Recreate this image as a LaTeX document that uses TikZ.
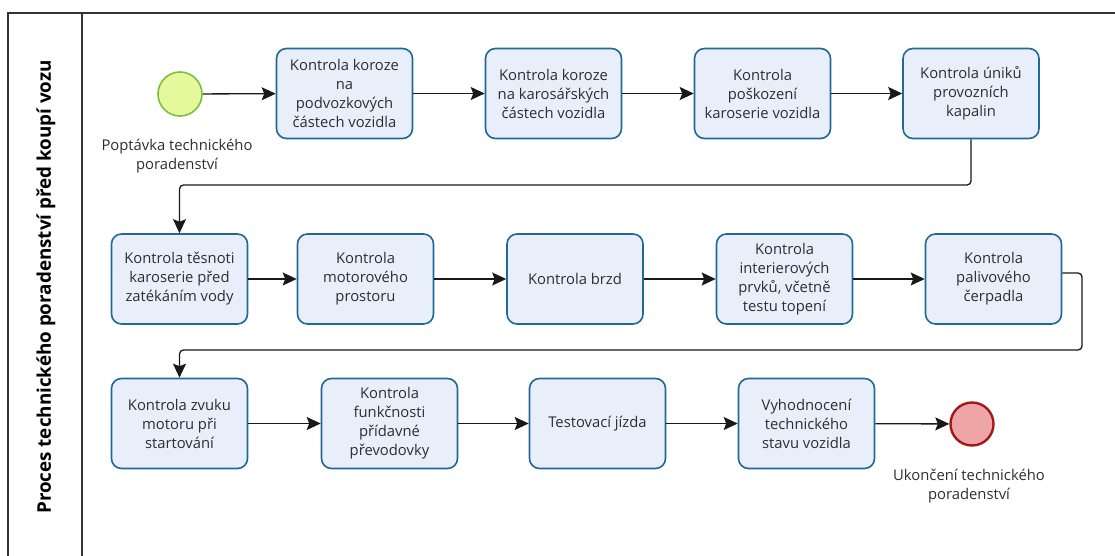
\documentclass[tikz,border=0pt]{standalone}
\usepackage{fontspec}
\setmainfont{Open Sans}
\usetikzlibrary{arrows.meta,positioning,calc}
\definecolor{taskborder}{HTML}{1F6A94}
\definecolor{taskfill}{HTML}{E9EEFB}
\definecolor{txt}{HTML}{2E2E2E}
\definecolor{startfill}{HTML}{E3F99B}
\definecolor{startdraw}{HTML}{7DBE3A}
\definecolor{endfill}{HTML}{EDA5A5}
\definecolor{enddraw}{HTML}{A11A1A}
\definecolor{frame}{HTML}{333333}
\tikzset{
  task/.style={draw=taskborder,fill=taskfill,line width=1.6pt,rounded corners=10pt,
    minimum width=136pt,minimum height=90pt,align=center,text=txt,inner sep=2pt,
    font=\fontsize{14.8}{19}\selectfont},
  startev/.style={circle,draw=startdraw,fill=startfill,line width=1.6pt,minimum size=44pt,inner sep=0pt},
  endev/.style={circle,draw=enddraw,fill=endfill,line width=2.4pt,minimum size=43pt,inner sep=0pt},
  evlabel/.style={align=center,text=txt,font=\fontsize{14.8}{19}\selectfont},
  flow/.style={draw=black!90,line width=1.3pt,rounded corners=4pt,
    -{Stealth[length=14pt,width=13pt,inset=2.5pt]}},
  frameline/.style={draw=frame,line width=1.3pt}
}
\begin{document}
\begin{tikzpicture}[x=1pt,y=-1pt]
\useasboundingbox (0,0) rectangle (1115,556);
% frame
\draw[frameline] (8,556) -- (8,13) -- (1115,13);
\draw[frameline] (82,13) -- (82,556);
\node[rotate=90,font=\bfseries\fontsize{18.8}{22}\selectfont,text=black] (lane) at (46,287) {Proces technického poradenství před koupí vozu};
% events
\node[startev] (start) at (180,94) {};
\node[evlabel] (startlbl) at (177,156) {Poptávka technického\\poradenství};
\node[endev] (end) at (972,424) {};
\node[evlabel] (endlbl) at (969,486) {Ukončení technického\\poradenství};
% row 1
\node[task] (a1) at (344.5,93.5) {Kontrola koroze\\na\\podvozkových\\částech vozidla};
\node[task] (a2) at (553.5,93.5) {Kontrola koroze\\na karosářských\\částech vozidla};
\node[task] (a3) at (762.5,93.5) {Kontrola\\poškození\\karoserie vozidla};
\node[task] (a4) at (971,93.5) {Kontrola úniků\\provozních\\kapalin};
% row 2
\node[task] (b1) at (179.5,279) {Kontrola těsnoti\\karoserie před\\zatékáním vody};
\node[task] (b2) at (365.5,279) {Kontrola\\motorového\\prostoru};
\node[task] (b3) at (575,279) {Kontrola brzd};
\node[task] (b4) at (784.5,279) {Kontrola\\interierových\\prvků, včetně\\testu topení};
\node[task] (b5) at (993.5,279) {Kontrola\\palivového\\čerpadla};
% row 3
\node[task] (c1) at (179.5,423.5) {Kontrola zvuku\\motoru při\\startování};
\node[task] (c2) at (389.5,423.5) {Kontrola\\funkčnosti\\přídavné\\převodovky};
\node[task] (c3) at (597.5,423.5) {Testovací jízda};
\node[task] (c4) at (806.5,423.5) {Vyhodnocení\\technického\\stavu vozidla};
% bend points
\coordinate (bend1) at (179.5,185);
\coordinate (bend2) at (1082,350);
% flows
\draw[flow] (start) -- (a1);
\draw[flow] (a1) -- (a2);
\draw[flow] (a2) -- (a3);
\draw[flow] (a3) -- (a4);
\draw[flow] (a4.south) |- (bend1) -- (b1.north);
\draw[flow] (b1) -- (b2);
\draw[flow] (b2) -- (b3);
\draw[flow] (b3) -- (b4);
\draw[flow] (b4) -- (b5);
\draw[flow] ([yshift=6pt]b5.east) -| (bend2) -| (c1.north);
\draw[flow] (c1) -- (c2);
\draw[flow] (c2) -- (c3);
\draw[flow] (c3) -- (c4);
\draw[flow] (c4) -- (end);
\end{tikzpicture}
\end{document}
